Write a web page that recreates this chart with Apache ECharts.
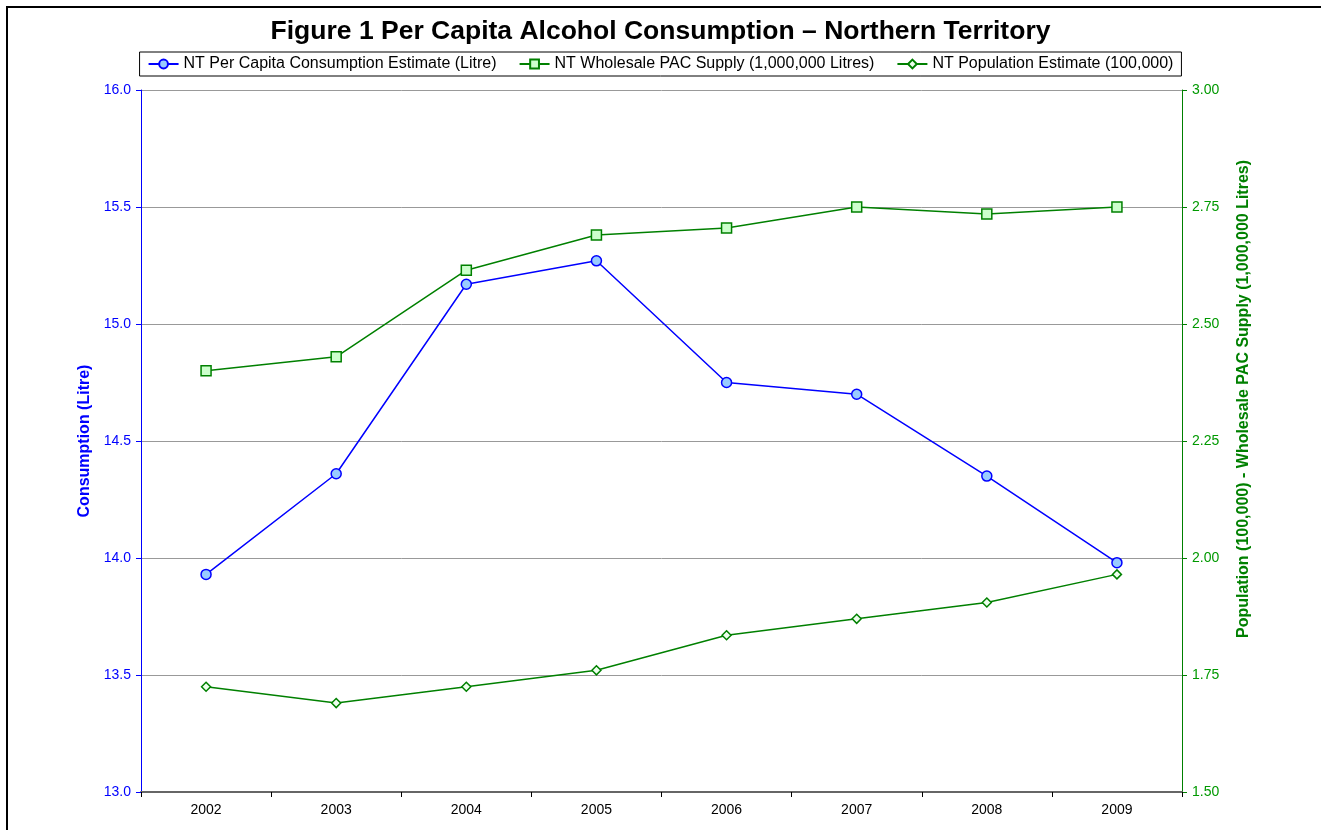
<!DOCTYPE html>
<html>
<head>
<meta charset="utf-8">
<script src="https://cdn.jsdelivr.net/npm/echarts@6/dist/echarts.min.js"></script>
<style>
  html, body { margin: 0; padding: 0; background: #fff; overflow: hidden; }
  #main { width: 1321px; height: 830px; }
  #frame {
    position: absolute; left: 6px; top: 6px; width: 1400px; height: 900px;
    border: 2px solid #000; pointer-events: none;
  }
</style>
</head>
<body>
<div id="main"></div>
<div id="frame"></div>
<script>
// years on the x axis
var years = ["2002", "2003", "2004", "2005", "2006", "2007", "2008", "2009"]
// per capita consumption (litre) - left axis
var perCapita = [13.93, 14.36, 15.17, 15.27, 14.75, 14.70, 14.35, 13.98]
// wholesale PAC supply (1,000,000 litres) - right axis
var wholesale = [2.40, 2.43, 2.615, 2.69, 2.705, 2.75, 2.735, 2.75]
// population estimate (100,000) - right axis
var population = [1.725, 1.69, 1.725, 1.76, 1.835, 1.87, 1.905, 1.965]

var seriesNames = [
  "NT Per Capita Consumption Estimate (Litre)",
  "NT Wholesale PAC Supply (1,000,000 Litres)",
  "NT Population Estimate (100,000)"
]

var font = "Arial, 'Liberation Sans', sans-serif"
var myChart = echarts.init(document.getElementById("main"))

myChart.setOption({
  animation: false,
  textStyle: { fontFamily: font },
  title: {
    text: "Figure 1 Per Capita Alcohol Consumption \u2013 Northern Territory",
    left: "center",
    top: 13,
    textStyle: { fontSize: 26.5, fontWeight: "bold", color: "#000", fontFamily: font }
  },
  legend: {
    data: seriesNames,
    left: "center",
    top: 52,
    borderColor: "#000",
    borderWidth: 1,
    padding: [4, 8, 4, 8],
    itemGap: 22,
    itemWidth: 30,
    itemHeight: 11,
    textStyle: { fontSize: 16, color: "#000", fontFamily: font }
  },
  grid: {
    left: 141,
    right: 139,
    top: 90,
    bottom: 38,
    containLabel: false
  },
  xAxis: {
    type: "category",
    data: years,
    boundaryGap: true,
    axisLine: { lineStyle: { color: "#666", width: 2 } },
    axisTick: { show: true, length: 5, alignWithLabel: false, lineStyle: { color: "#000" } },
    axisLabel: { color: "#000", fontSize: 14, margin: 11 },
    splitLine: { show: false }
  },
  yAxis: [
    {
      type: "value",
      min: 13,
      max: 16,
      interval: 0.5,
      position: "left",
      name: "Consumption (Litre)",
      nameLocation: "middle",
      nameGap: 48,
      nameTextStyle: { color: "#0000ff", fontSize: 16, fontWeight: "bold" },
      axisLine: { show: true, lineStyle: { color: "#0000ff", width: 1 } },
      axisTick: { show: true, length: 5, lineStyle: { color: "#0000ff" } },
      axisLabel: {
        color: "#0000ff",
        fontSize: 14,
        margin: 10,
        formatter: function (v) { return v.toFixed(1) }
      },
      splitLine: { show: true, lineStyle: { color: "#999", width: 1 } }
    },
    {
      type: "value",
      min: 1.5,
      max: 3,
      interval: 0.25,
      position: "right",
      name: "Population (100,000) - Wholesale PAC Supply (1,000,000 Litres)",
      nameLocation: "middle",
      nameGap: 54,
      nameRotate: 90,
      nameTextStyle: { color: "#008000", fontSize: 16, fontWeight: "bold", padding: [0, 0, 0, 84] },
      axisLine: { show: true, lineStyle: { color: "#008000", width: 1 } },
      axisTick: { show: true, length: 5, lineStyle: { color: "#008000" } },
      axisLabel: {
        color: "#009900",
        fontSize: 14,
        margin: 10,
        formatter: function (v) { return v.toFixed(2) }
      },
      splitLine: { show: false }
    }
  ],
  series: [
    {
      name: seriesNames[0],
      type: "line",
      yAxisIndex: 0,
      data: perCapita,
      symbol: "circle",
      symbolSize: 10,
      lineStyle: { color: "#0000ff", width: 1.5 },
      itemStyle: { color: "#99ccff", borderColor: "#0000ff", borderWidth: 1.5 }
    },
    {
      name: seriesNames[1],
      type: "line",
      yAxisIndex: 1,
      data: wholesale,
      symbol: "rect",
      symbolSize: 10,
      lineStyle: { color: "#008000", width: 1.5 },
      itemStyle: { color: "#ccffcc", borderColor: "#008000", borderWidth: 1.5 }
    },
    {
      name: seriesNames[2],
      type: "line",
      yAxisIndex: 1,
      data: population,
      symbol: "diamond",
      symbolSize: 9,
      lineStyle: { color: "#008000", width: 1.5 },
      itemStyle: { color: "#eeffee", borderColor: "#008000", borderWidth: 1.5 }
    }
  ]
})
window.addEventListener("resize", function () {
  myChart.resize()
})
</script>
</body>
</html>
